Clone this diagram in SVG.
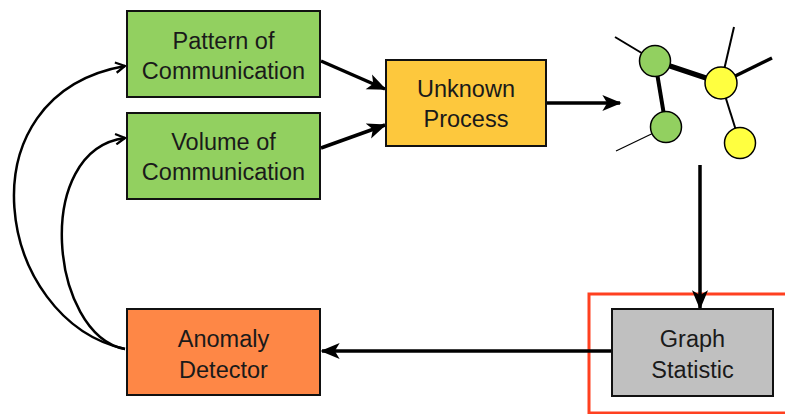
<svg xmlns="http://www.w3.org/2000/svg" width="785" height="414" viewBox="0 0 785 414">
<defs>
<style>
.box{stroke:#111;stroke-width:2}
.lbl{font-family:"Liberation Sans",Arial,sans-serif;font-size:23.5px;fill:#1a1a1a;text-anchor:middle}
.conn{fill:none;stroke:#000;stroke-width:3.5}
.curve{fill:none;stroke:#000;stroke-width:2.5}
.edge{stroke:#000;fill:none}
.gn{stroke:#000;stroke-width:1.5}
</style>
<marker id="arr" viewBox="0 0 12 10" refX="11" refY="5" markerWidth="5.5" markerHeight="5" markerUnits="strokeWidth" orient="auto">
<path d="M0,0 L12,5 L0,10 L3,5 z" fill="#000"/>
</marker>
<marker id="chev" viewBox="0 0 12 12" refX="11" refY="6" markerWidth="5" markerHeight="5" markerUnits="strokeWidth" orient="auto">
<path d="M2,1 L11,6 L2,11" fill="none" stroke="#000" stroke-width="2.2"/>
</marker>
</defs>
<rect width="785" height="414" fill="#fff"/>
<rect x="589" y="294" width="200" height="119" fill="none" stroke="#ff4020" stroke-width="3"/>
<g id="connectors">
<line class="conn" x1="321" y1="61" x2="385" y2="89" marker-end="url(#arr)"/>
<line class="conn" x1="321" y1="148" x2="385" y2="125" marker-end="url(#arr)"/>
<line class="conn" x1="546" y1="103" x2="620" y2="103" marker-end="url(#arr)"/>
<line class="conn" x1="700" y1="165" x2="700" y2="308" marker-end="url(#arr)"/>
<line class="conn" x1="612" y1="351" x2="322" y2="351" marker-end="url(#arr)"/>
<path class="curve" d="M125,349 C-5,320 -40,95 125,66" marker-end="url(#chev)"/>
<path class="curve" d="M125,349 C50,335 32,150 125,138" marker-end="url(#chev)"/>
</g>
<g id="graph">
<line class="edge" x1="615" y1="37" x2="655" y2="61" stroke-width="2"/>
<line class="edge" x1="655" y1="61" x2="721" y2="83" stroke-width="5.5"/>
<line class="edge" x1="655" y1="61" x2="666" y2="127" stroke-width="4"/>
<line class="edge" x1="734" y1="27" x2="721" y2="83" stroke-width="2"/>
<line class="edge" x1="772" y1="58" x2="721" y2="83" stroke-width="3.5"/>
<line class="edge" x1="721" y1="83" x2="740" y2="143" stroke-width="2"/>
<line class="edge" x1="616" y1="151" x2="666" y2="127" stroke-width="1.2"/>
<circle class="gn" cx="655" cy="61" r="15.5" fill="#92d060"/>
<circle class="gn" cx="666" cy="127" r="15.5" fill="#92d060"/>
<circle class="gn" cx="721" cy="83" r="16" fill="#ffff40"/>
<circle class="gn" cx="740" cy="143" r="15.5" fill="#ffff40"/>
</g>
<g id="pattern">
<rect class="box" x="127" y="11" width="193" height="86" fill="#92d060"/>
<text class="lbl" x="223.5" y="49">Pattern of</text>
<text class="lbl" x="223.5" y="79">Communication</text>
</g>
<g id="volume">
<rect class="box" x="127" y="113" width="193" height="86" fill="#92d060"/>
<text class="lbl" x="223.5" y="150">Volume of</text>
<text class="lbl" x="223.5" y="180">Communication</text>
</g>
<g id="unknown">
<rect class="box" x="386" y="60" width="160" height="86" fill="#fdc83d"/>
<text class="lbl" x="466" y="97">Unknown</text>
<text class="lbl" x="466" y="127">Process</text>
</g>
<g id="anomaly">
<rect class="box" x="127" y="309" width="193" height="86" fill="#fe8746"/>
<text class="lbl" x="223.5" y="347">Anomaly</text>
<text class="lbl" x="223.5" y="378">Detector</text>
</g>
<g id="graphstat">
<rect class="box" x="612" y="309" width="161" height="87" fill="#c0c0c0"/>
<text class="lbl" x="692.5" y="347">Graph</text>
<text class="lbl" x="692.5" y="378">Statistic</text>
</g>
</svg>
